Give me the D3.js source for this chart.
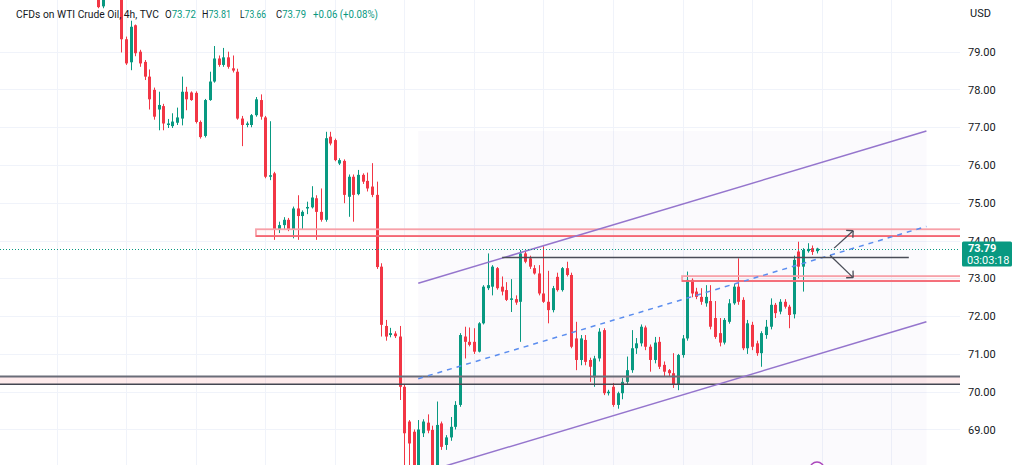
<!DOCTYPE html>
<html><head><meta charset="utf-8">
<script src="https://cdn.jsdelivr.net/npm/d3@7"></script>
<style>
html,body{margin:0;padding:0;background:#fff;overflow:hidden;}
svg{display:block;font-family:Roboto,"Liberation Sans",sans-serif;}
</style>
</head><body>
<svg id="c" width="1024" height="465"></svg>
<script>
// ---- data (4h candles, index 0..155) ----
const opens = [80.90,80.20,80.80,81.00,80.70,80.45,79.33,78.72,79.70,79.00,
78.73,78.34,77.99,77.47,77.56,77.06,77.03,77.12,77.23,77.94,
77.92,77.91,77.14,76.77,77.72,78.21,78.82,78.65,78.85,78.56,
78.47,77.23,77.06,77.06,77.32,77.72,77.26,75.69,75.78,74.28,
74.41,74.55,74.30,74.85,74.65,74.85,74.88,75.12,74.76,74.55,
76.75,76.66,76.04,76.11,75.16,75.69,75.23,75.74,75.58,75.43,
75.21,73.31,71.74,71.50,71.54,71.46,70.13,69.21,68.94,67.95,
68.90,69.18,68.99,68.00,69.16,68.59,68.79,69.07,69.65,71.46,
71.32,71.32,71.06,71.81,72.74,72.78,73.27,72.78,72.69,72.43,
72.45,72.38,73.66,73.53,73.27,73.13,72.60,72.38,72.16,73.04,
72.69,73.27,73.09,71.41,70.84,71.37,70.84,70.38,70.88,71.63,
69.96,70.13,69.65,69.96,70.26,70.57,71.15,71.28,71.70,71.19,
70.84,71.32,70.71,70.57,70.49,70.18,70.97,71.41,72.96,72.65,
72.51,72.34,72.40,71.95,71.55,71.30,71.85,72.34,72.78,72.43,
71.15,71.77,71.28,71.02,71.50,71.72,72.30,72.12,72.38,72.25,
72.05,73.71,73.31,73.72,73.80,73.72];
const highs = [81.00,80.90,81.20,81.10,80.90,80.60,79.40,79.82,79.72,79.05,
78.78,78.53,78.05,77.94,77.62,77.22,77.37,77.52,78.34,78.07,
77.95,77.95,77.18,77.75,78.47,79.15,78.90,79.10,79.00,78.90,
78.55,77.30,77.15,77.35,77.80,77.87,77.30,77.16,75.82,74.50,
74.62,74.60,74.90,75.20,74.80,75.03,75.44,75.20,75.38,76.88,
76.88,76.70,76.18,76.15,75.75,75.75,75.87,75.78,75.80,76.05,
75.56,73.40,71.90,71.69,71.60,71.74,70.18,69.25,69.00,69.25,
69.27,69.40,69.10,69.74,69.21,68.85,69.33,69.75,71.55,71.72,
71.70,71.68,71.84,72.82,73.66,73.35,73.30,73.05,72.90,72.98,
72.55,73.75,73.73,73.60,73.35,73.35,73.85,73.20,72.80,73.15,
73.30,73.44,73.15,71.85,71.50,71.50,70.90,70.95,71.68,71.68,
70.05,70.23,70.00,70.36,70.93,71.63,71.42,71.78,71.75,71.25,
71.45,71.45,70.80,70.60,71.02,71.00,71.50,73.18,73.00,72.75,
72.74,72.82,72.82,72.40,71.95,71.95,72.45,72.85,73.53,72.50,
71.90,71.85,71.35,71.60,71.90,72.47,72.35,72.45,72.45,72.30,
73.60,73.97,73.80,73.93,73.87,73.81];
const lows = [80.15,80.15,80.60,80.50,80.45,78.98,78.65,78.51,78.88,78.60,
78.25,77.47,77.20,76.92,76.92,76.98,76.98,77.06,77.05,77.45,
77.70,77.10,76.70,76.73,77.70,78.18,78.60,78.60,78.55,78.45,
77.20,76.50,77.00,77.00,77.28,77.20,75.65,75.60,74.02,74.20,
74.30,74.25,74.06,74.02,74.28,74.70,74.85,74.02,74.50,74.50,
76.52,76.10,76.00,74.99,74.63,74.50,75.20,75.50,75.30,75.15,
73.25,71.46,71.35,71.44,71.42,69.78,67.90,67.90,67.80,67.80,
68.80,68.90,67.90,67.90,68.46,68.46,68.70,69.00,69.60,70.88,
71.20,71.00,71.04,71.78,72.69,72.55,72.70,72.55,72.40,72.11,
72.30,71.32,73.40,73.25,73.10,72.55,72.35,71.81,72.10,72.65,
72.65,73.05,71.15,70.57,70.70,70.70,70.26,70.13,70.80,69.91,
69.90,69.60,69.55,69.80,70.20,70.50,71.00,71.20,71.10,70.53,
70.75,70.60,70.40,70.40,70.10,70.04,70.90,71.35,72.50,72.45,
72.30,72.25,71.65,71.40,71.20,71.25,71.80,72.30,72.30,71.10,
71.00,71.10,70.95,70.66,71.40,71.65,71.95,72.05,72.20,71.68,
71.94,73.00,72.65,73.68,73.62,73.66];
const closes = [80.18,80.80,81.00,80.70,80.50,79.33,78.69,79.66,78.96,78.69,
78.34,77.74,77.28,77.59,77.10,77.10,77.15,77.26,77.94,77.74,
77.72,77.14,76.74,77.72,78.21,78.82,78.65,78.85,78.60,78.50,
77.23,77.06,77.10,77.32,77.74,77.28,75.69,75.73,74.28,74.41,
74.55,74.30,74.85,74.65,74.76,74.89,75.14,74.76,74.55,76.71,
76.57,76.13,76.13,75.21,75.69,75.21,75.74,75.56,75.38,75.21,
73.30,71.77,71.46,71.55,71.47,70.13,68.90,68.63,67.95,69.00,
69.21,68.97,68.00,69.12,68.54,68.79,69.07,69.65,71.50,71.32,
71.24,71.06,71.81,72.78,72.82,73.31,72.74,72.65,72.43,72.47,
72.36,73.66,73.44,73.31,73.13,72.60,72.38,72.16,72.74,72.69,
73.27,73.09,71.19,70.84,71.41,70.79,70.66,70.88,71.59,69.96,
70.00,69.65,69.96,70.26,70.57,71.15,71.28,71.72,71.19,70.84,
71.30,70.66,70.53,70.49,70.18,70.97,71.41,72.96,72.60,72.51,
72.38,72.51,71.72,71.45,71.30,71.90,72.34,72.78,72.38,71.15,
71.81,71.19,71.02,71.55,71.72,72.30,72.08,72.38,72.25,72.03,
73.49,73.31,73.75,73.78,73.70,73.79];
const priceTicks = [69,70,71,72,73,74,75,76,77,78,79];
const timeGrid = d3.range(-9, 175, 15);            // vertical grid at candle indices
const lastPrice = 73.79;
const countdown = "03:03:18";
const headerTitle = "CFDs on WTI Crude Oil, 4h, TVC";
const headerKeys = ["O","H","L","C"];
const headerVals = ["73.72","73.81","73.66","73.79"];
const headerChange = "+0.06 (+0.08%)";
// drawings, in (candle index, price) space
const redZones = [{from:34.0, top:74.30, bot:74.12},{from:125.9, top:73.06, bot:72.93}];
const supportZone = {top:70.40, bot:70.20};
const channelUpper = [[69.0,72.87],[178.6,76.90]];
const channelLower = [[69.0,67.82],[178.6,71.85]];
const resistanceLine = [[87.1,73.55],[174.8,73.55]];
const arrowUp = [[158.7,73.80],[162.8,74.26]];
const arrowDown = [[157.8,73.61],[162.8,73.02]];

// ---- layout ----
const W=1024, H=465, plotR=960;
const GREEN="#089981", RED="#f23645";
const svg = d3.select("#c");
const x = d3.scaleLinear().domain([0,155]).range([98.3,817]);
const y = d3.scaleLinear().domain([70,79]).range([391.7,51.7]);

svg.append("defs").append("clipPath").attr("id","plot").append("rect")
  .attr("x",0).attr("y",0).attr("width",plotR).attr("height",H);
const g = svg.append("g").attr("clip-path","url(#plot)");

// grid
g.selectAll(".hg").data(priceTicks).join("line")
  .attr("x1",0).attr("x2",plotR).attr("y1",d=>Math.round(y(d))+0.5).attr("y2",d=>Math.round(y(d))+0.5)
  .attr("stroke","#f0f3fa").attr("stroke-width",1);
g.selectAll(".vg").data(timeGrid).join("line")
  .attr("x1",d=>Math.round(x(d))+0.5).attr("x2",d=>Math.round(x(d))+0.5).attr("y1",0).attr("y2",H)
  .attr("stroke","#f0f3fa").attr("stroke-width",1);

// channel background tint
g.append("rect")
  .attr("x",x(channelUpper[0][0])).attr("width",x(channelUpper[1][0])-x(channelUpper[0][0]))
  .attr("y",y(channelUpper[1][1])).attr("height",y(channelLower[0][1])-y(channelUpper[1][1]))
  .attr("fill","#7e57c2").attr("fill-opacity",0.028);

// candles
const idx = d3.range(closes.length);
const cg = g.append("g");
cg.selectAll(".w").data(idx).join("line")
  .attr("x1",i=>Math.round(x(i))+0.5).attr("x2",i=>Math.round(x(i))+0.5)
  .attr("y1",i=>y(highs[i])).attr("y2",i=>y(lows[i]))
  .attr("stroke",i=>closes[i]>=opens[i]?GREEN:RED).attr("stroke-width",1);
cg.selectAll(".b").data(idx).join("rect")
  .attr("x",i=>Math.round(x(i))-1).attr("width",3)
  .attr("y",i=>y(Math.max(opens[i],closes[i])))
  .attr("height",i=>Math.max(1,Math.abs(y(opens[i])-y(closes[i]))))
  .attr("fill",i=>closes[i]>=opens[i]?GREEN:RED);

// support zone (gray)
g.append("rect").attr("x",0).attr("width",plotR)
  .attr("y",y(supportZone.top)).attr("height",y(supportZone.bot)-y(supportZone.top))
  .attr("fill",RED).attr("fill-opacity",0.1);
[supportZone.top,supportZone.bot].forEach((p,k)=>{
  g.append("line").attr("x1",0).attr("x2",plotR).attr("y1",y(p)).attr("y2",y(p))
   .attr("stroke",k?"#434651":"#6a6d78").attr("stroke-width",k?1.5:2);
});

// red zones
redZones.forEach(z=>{
  g.append("rect").attr("x",x(z.from)).attr("width",plotR+5-x(z.from))
   .attr("y",y(z.top)).attr("height",y(z.bot)-y(z.top))
   .attr("fill",RED).attr("fill-opacity",0.03)
   .attr("stroke","#f7a1a9").attr("stroke-width",1.8);
  g.append("line").attr("x1",x(z.from)).attr("x2",plotR).attr("y1",y(z.bot)).attr("y2",y(z.bot))
   .attr("stroke",RED).attr("stroke-width",1);
});

// channel
const ln = d3.line().x(d=>x(d[0])).y(d=>y(d[1]));
[channelUpper,channelLower].forEach(c=>{
  g.append("path").attr("d",ln(c)).attr("fill","none").attr("stroke","#9575cd").attr("stroke-width",1.5);
});
const mid = channelUpper.map((d,k)=>[d[0],(d[1]+channelLower[k][1])/2]);
g.append("path").attr("d",ln(mid)).attr("fill","none").attr("stroke","#5b8def")
  .attr("stroke-width",1.5).attr("stroke-dasharray","5,5");

// horizontal resistance line
g.append("path").attr("d",ln(resistanceLine)).attr("fill","none").attr("stroke","#4a4d57").attr("stroke-width",1.5);

// arrows
[arrowUp,arrowDown].forEach(a=>{
  const x0=x(a[0][0]), y0=y(a[0][1]), x1=x(a[1][0]), y1=y(a[1][1]);
  g.append("line").attr("x1",x0).attr("y1",y0).attr("x2",x1).attr("y2",y1)
   .attr("stroke","#4a4d57").attr("stroke-width",1.3);
  const ang=Math.atan2(y0-y1,x0-x1), L=7;
  [-Math.PI/4,Math.PI/4].forEach(da=>{
    g.append("line").attr("x1",x1).attr("y1",y1)
     .attr("x2",x1+L*Math.cos(ang+da)).attr("y2",y1+L*Math.sin(ang+da))
     .attr("stroke","#4a4d57").attr("stroke-width",1.3);
  });
});

// last price dotted line
g.append("line").attr("x1",0).attr("x2",plotR).attr("y1",Math.round(y(lastPrice))+0.5).attr("y2",Math.round(y(lastPrice))+0.5)
  .attr("stroke",GREEN).attr("stroke-width",1).attr("stroke-dasharray","1,2");

// event marker
g.append("circle").attr("cx",x(155)).attr("cy",469).attr("r",7)
  .attr("fill","#fff").attr("stroke","#ab47bc").attr("stroke-width",1.5);

// right price axis
const axis = d3.axisRight(y).tickValues(priceTicks).tickFormat(d3.format(".2f")).tickSize(0).tickPadding(0);
const ag = svg.append("g").attr("transform",`translate(968,0)`).call(axis);
ag.select(".domain").remove();
ag.selectAll("text").attr("fill","#131722").attr("font-size",11).attr("font-family","Roboto,sans-serif");
svg.append("text").attr("x",970).attr("y",17).attr("font-size",11).attr("fill","#131722").text("USD");

// last price label
const ly = y(lastPrice);
svg.append("rect").attr("x",962).attr("y",ly-7).attr("width",50).attr("height",25).attr("rx",1.5).attr("fill",GREEN);
svg.append("text").attr("x",968).attr("y",ly+3.5).attr("font-size",11).attr("font-weight","bold").attr("fill","#fff").text(lastPrice.toFixed(2));
svg.append("text").attr("x",967).attr("y",ly+15.5).attr("font-size",11).attr("fill","#fff").text(countdown);

// header legend
const hy = 17.5, hfs = 10.8;
svg.append("text").attr("x",16).attr("y",hy).attr("font-size",hfs).attr("fill","#131722")
  .attr("textLength",143).attr("lengthAdjust","spacingAndGlyphs").text(headerTitle);
const hx = [165,202,240,276], hw = [31,29,26,30];
headerKeys.forEach((k,j)=>{
  const t = svg.append("text").attr("x",hx[j]).attr("y",hy).attr("font-size",hfs).attr("fill","#131722")
    .attr("textLength",hw[j]).attr("lengthAdjust","spacingAndGlyphs");
  t.append("tspan").text(k);
  t.append("tspan").attr("fill",GREEN).text(headerVals[j]);
});
svg.append("text").attr("x",313).attr("y",hy).attr("font-size",hfs).attr("fill",GREEN)
  .attr("textLength",65).attr("lengthAdjust","spacingAndGlyphs").text(headerChange);
</script>
</body></html>
